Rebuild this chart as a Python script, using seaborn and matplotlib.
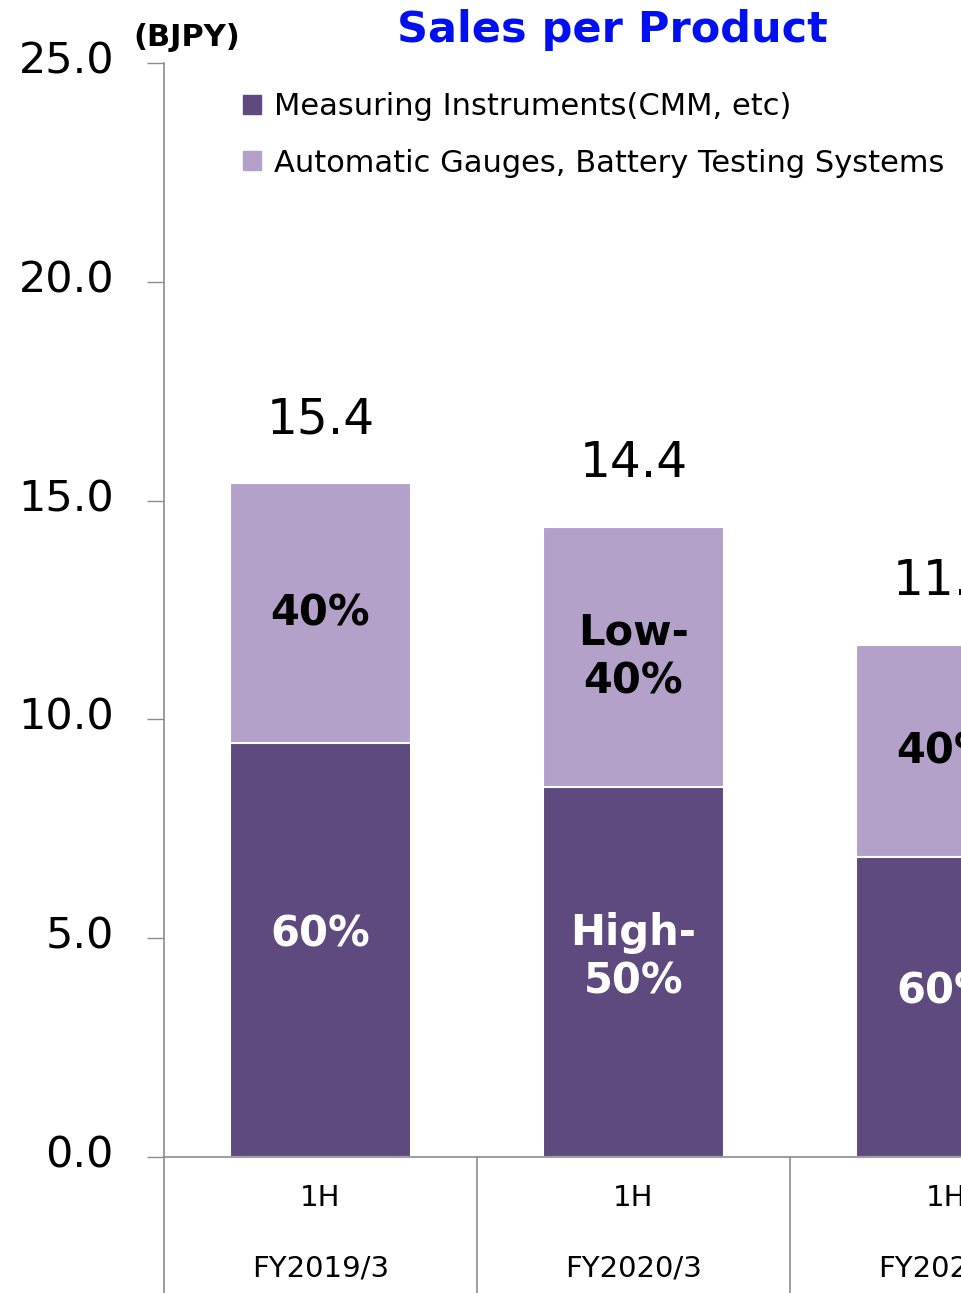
import matplotlib
matplotlib.use("Agg")
import matplotlib.pyplot as plt
import matplotlib.transforms as mtransforms
import seaborn as sns
import pandas as pd
from matplotlib.patches import Patch

# data (BJPY)
fiscal_years = ["FY2019/3", "FY2020/3", "FY2021/3"]
periods = ["1H", "1H", "1H"]
measuring = [9.45, 8.45, 6.85]
gauges = [5.95, 5.95, 4.85]
total_labels = ["15.4", "14.4", "11.7"]
measuring_share = ["60%", "High-\n50%", "60%"]
gauges_share = ["40%", "Low-\n40%", "40%"]
series_names = ["Measuring Instruments(CMM, etc)",
                "Automatic Gauges, Battery Testing Systems"]

dark = "#5e4a7e"
light = "#b3a1c9"
grey = "#8c8c8c"

df = pd.DataFrame({"year": fiscal_years, "measuring": measuring, "gauges": gauges})
df["total"] = df["measuring"] + df["gauges"]

sns.set_style("white")
plt.rcParams["font.family"] = ["DejaVu Sans"]
plt.rcParams["text.color"] = "black"
plt.rcParams["ytick.color"] = "black"

fig = plt.figure(figsize=(9.62, 12.93), dpi=100)
ax = fig.add_axes([164 / 962, 136 / 1293, 798 / 962, 1094 / 1293])

sns.barplot(data=df, x="year", y="total", color=light, width=0.58, saturation=1,
            edgecolor="white", linewidth=1.5, ax=ax)
sns.barplot(data=df, x="year", y="measuring", color=dark, width=0.58, saturation=1,
            edgecolor="white", linewidth=1.5, ax=ax)

ax.set_xlim(-0.5, 2.05)
ax.set_ylim(0, 25)
ax.set_yticks([0, 5, 10, 15, 20, 25])
ax.set_yticklabels([f"{v:.1f}" for v in [0, 5, 10, 15, 20, 25]], fontsize=31)
ax.tick_params(axis="y", length=12, width=1, color=grey, labelcolor="black", pad=24, left=True)
shift = mtransforms.ScaledTranslation(0, 6 / 100, fig.dpi_scale_trans)
for lab in ax.get_yticklabels():
    lab.set_transform(lab.get_transform() + shift)
ax.set_xticks([])
ax.set_xlabel("")
ax.set_ylabel("")
for s in ["top", "right"]:
    ax.spines[s].set_visible(False)
for s in ["left", "bottom"]:
    ax.spines[s].set_color(grey)
    ax.spines[s].set_linewidth(1.2)

# category axis drawn as table-like rows
ax.plot([-0.5, -0.5], [0, -3.2], color=grey, lw=1.2, clip_on=False)
for sep in [0.5, 1.5]:
    ax.plot([sep, sep], [0, -3.2], color=grey, lw=1.2, clip_on=False)
for i, (p, fy) in enumerate(zip(periods, fiscal_years)):
    ax.text(i, -0.94, p, ha="center", va="center", fontsize=21, clip_on=False)
    ax.text(i, -2.54, fy, ha="center", va="center", fontsize=21, clip_on=False)

# labels on bars
for i, row in df.iterrows():
    ax.annotate(total_labels[i], (i, row["total"]), xytext=(0, 46),
                textcoords="offset points", ha="center", va="center", fontsize=35)
    ax.text(i, row["measuring"] + row["gauges"] / 2, gauges_share[i], ha="center",
            va="center", fontsize=30, weight="bold", color="black", linespacing=1.2)
    ax.annotate(measuring_share[i], (i, row["measuring"] / 2), xytext=(0, 11),
                textcoords="offset points", ha="center", va="center", fontsize=30,
                weight="bold", color="white", linespacing=1.2)

handles = [Patch(color=dark), Patch(color=light)]
fig.legend(handles, series_names, loc="upper left", bbox_to_anchor=(243 / 962, 1 - 92 / 1293),
           frameon=False, fontsize=22, handlelength=0.6, handleheight=0.6,
           handletextpad=0.4, labelspacing=0.9, borderpad=0, borderaxespad=0)

fig.text(612 / 962, 1 - 30 / 1293, "Sales per Product", ha="center", va="center",
         fontsize=31, weight="bold", color="#0010f0")
fig.text(133 / 962, 1 - 38 / 1293, "(BJPY)", ha="left", va="center",
         fontsize=22, weight="bold")

fig.savefig("out.png", dpi=100)
